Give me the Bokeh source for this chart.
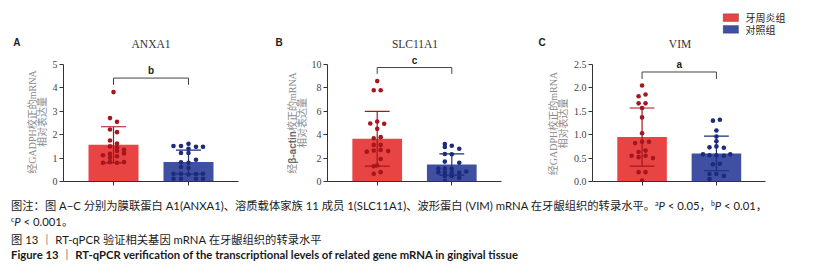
from bokeh.plotting import figure
from bokeh.layouts import row, column
from bokeh.models import (Range1d, FixedTicker, Label, Div, BoxAnnotation,
                          ColumnDataSource, PrintfTickFormatter)
from bokeh.embed import file_html
from bokeh.resources import INLINE

# ---------------- data ----------------
groups = ["牙周炎组", "对照组"]
genes = ["ANXA1", "SLC11A1", "VIM"]
panel_letters = ["A", "B", "C"]
sig_letters = ["b", "c", "a"]
# first line of each y-axis title, split in (text, bold) pieces
ylabel_line1 = [
    [("经GADPH校正的mRNA", False)],
    [("经", False), ("β-actin", True), ("校正的mRNA", False)],
    [("经GADPH校正的mRNA", False)],
]
ylabel_line2 = "相对表达量"
y_max = [5, 10, 2.5]
y_ticks = [[0, 1, 2, 3, 4, 5], [0, 2, 4, 6, 8, 10], [0, 0.5, 1.0, 1.5, 2.0, 2.5]]
y_tick_format = ["%d", "%d", "%.1f"]

# bar means and SD (periodontitis, control)
means = [[1.57, 0.83], [3.65, 1.45], [0.95, 0.60]]
sds = [[0.77, 0.51], [2.34, 0.91], [0.62, 0.37]]

# significance brackets: top, drop end, letter height
bracket_top = [4.42, 9.74, 2.34]
bracket_drop = [4.13, 9.20, 2.19]
letter_y = [4.74, 10.34, 2.49]

# individual samples (value, horizontal jitter in bar widths)
anxa1_pd_vals = [3.82, 2.71, 2.55, 2.22, 2.11, 1.75, 1.62, 1.50, 1.45, 1.12, 1.18, 1.30, 1.36,
                 1.02, 1.08, 1.20, 0.80, 0.83, 0.80, 0.83]
anxa1_pd_jit = [0, -0.07, 0.07, -0.07, 0.07, -0.07, 0.07, -0.07, 0.07, -0.21, -0.07, 0.07, 0.21,
                -0.07, 0.07, 0.21, -0.21, -0.07, 0.07, 0.21]
anxa1_ct_vals = [1.61, 1.52, 1.52, 1.48, 1.48, 1.40, 1.22, 1.22, 0.93, 0.82, 0.80, 0.62, 0.58,
                 0.33, 0.33, 0.30, 0.32, 0.33, 0.12, 0.12, 0.12, 0.12]
anxa1_ct_jit = [0, -0.30, -0.15, 0.15, 0.29, 0, -0.15, 0, 0.15, -0.15, 0, -0.15, 0,
                -0.30, -0.15, 0, 0.15, 0.29, -0.30, -0.15, 0.15, 0.29]

slc_pd_vals = [8.58, 7.80, 7.80, 5.13, 4.96, 4.93, 4.50, 3.70, 3.79, 3.13, 3.13, 2.65, 2.70,
               2.55, 2.60, 1.92, 1.37, 1.30, 0.66, 0.80]
slc_pd_jit = [0, -0.07, 0.07, 0, -0.14, 0.14, 0, -0.07, 0.07, -0.07, 0.07, -0.07, 0.07,
              -0.21, 0.22, 0.07, 0, -0.07, -0.07, 0.07]
slc_ct_vals = [3.20, 3.05, 2.95, 2.80, 2.35, 2.33, 1.70, 1.60, 1.10, 1.10, 1.08, 0.85, 0.78,
               0.76, 0.75, 0.75, 0.48, 0.45, 0.30, 0.05]
slc_ct_jit = [-0.14, 0.0, -0.14, 0.15, -0.14, 0.0, -0.14, 0.15, -0.27, -0.14, 0.0, 0.29, -0.27,
              -0.14, 0.0, 0.15, -0.14, 0.0, 0.15, -0.14]

vim_pd_vals = [2.05, 1.82, 1.86, 1.67, 1.67, 1.57, 1.37, 1.03, 0.82, 0.85, 0.85, 0.63, 0.66,
               0.55, 0.52, 0.55, 0.50, 0.20, 0.20, 0.02]
vim_pd_jit = [0, -0.07, 0.07, -0.07, 0.07, 0, 0, 0, -0.14, 0, 0.14, -0.07, 0.07,
              -0.21, -0.07, 0.07, 0.22, -0.07, 0.07, 0]
vim_ct_vals = [1.30, 1.32, 1.09, 0.96, 0.86, 0.73, 0.75, 0.72, 0.58, 0.56, 0.56, 0.55, 0.58,
               0.37, 0.38, 0.16, 0.16, 0.12, 0.05]
vim_ct_jit = [-0.07, 0.07, 0, 0, 0, -0.14, 0, 0.15, -0.27, -0.14, 0, 0.15, 0.28,
              -0.07, 0.07, -0.14, 0, 0.15, -0.14]

samples = [
    [(anxa1_pd_vals, anxa1_pd_jit), (anxa1_ct_vals, anxa1_ct_jit)],
    [(slc_pd_vals, slc_pd_jit), (slc_ct_vals, slc_ct_jit)],
    [(vim_pd_vals, vim_pd_jit), (vim_ct_vals, vim_ct_jit)],
]

caption_line1 = ("图注：图 A−C 分别为膜联蛋白 A1(ANXA1)、溶质载体家族 11 成员 1(SLC11A1)、"
                 "波形蛋白 (VIM) mRNA 在牙龈组织的转录水平。")
caption_p = [("a", "0.05，"), ("b", "0.01，"), ("c", "0.001。")]
caption_line3 = "图 13 ｜ RT-qPCR 验证相关基因 mRNA 在牙龈组织的转录水平"
caption_line4 = "Figure 13 ｜ RT-qPCR verification of the transcriptional levels of related gene mRNA in gingival tissue"

# ---------------- styling / layout ----------------
bar_colors = ["#E84444", "#3F50A3"]
dot_colors = ["#A5161E", "#1D2B7B"]
centers = [1.0, 2.5]
x_max = 3.5
bar_width = 1.0
cap_half = 0.25
axis_color = "#333333"
serif = "Liberation Serif, Noto Sans CJK SC"

fig_h = 191
bottom_border = 10
frame_h = fig_h - bottom_border          # frame spans the top of the canvas (row aligns borders)
axis_px = 117                            # pixel length of the 0..max axis
axis_w_px = 175                          # pixel length of the x axis

strip_w = [48, 40, 42]                   # left strips holding letter + y-axis title
plot_w = [220, 220, 250]
plot_lb = [15, 18, 20]
plot_rb = [30, 27, 0]
letter_x = [12.7, 7, 10]
ylab_x = [31.7, 23.7, 25.3]
ylab_center = [121.5, 122.5, 123.0]      # page y of the title's middle
piece_len = {"经": 10.0, "β-actin": 32.8, "校正的mRNA": 58.9}


def make_strip(i):
    s = figure(width=strip_w[i], height=fig_h, x_range=Range1d(0, 1), y_range=Range1d(0, 1),
               output_backend="svg", toolbar_location=None, title=None,
               x_axis_location=None, y_axis_location=None, min_border=0,
               min_border_bottom=bottom_border)
    s.outline_line_color = None
    s.grid.visible = False
    s.add_layout(Label(x=letter_x[i], y=frame_h - 41.7, x_units="screen", y_units="screen",
                       text=panel_letters[i], text_align="left", text_baseline="middle",
                       text_font="Liberation Sans", text_font_style="bold",
                       text_font_size="10px", text_color="#222222"))
    pieces = ylabel_line1[i]
    if len(pieces) == 1:
        s.add_layout(Label(x=ylab_x[i], y=frame_h - ylab_center[i], x_units="screen",
                           y_units="screen", text=pieces[0][0], angle=90, angle_units="deg",
                           text_align="center", text_baseline="middle", text_font=serif,
                           text_font_size="10px", text_color="#8a8a8a"))
    else:
        total = sum(piece_len[t] for t, _ in pieces)
        start = frame_h - ylab_center[i] - total / 2     # bottom end, frame coords
        for t, bold in pieces:
            s.add_layout(Label(x=ylab_x[i], y=start, x_units="screen", y_units="screen",
                               text=t, angle=90, angle_units="deg", text_align="left",
                               text_baseline="middle",
                               text_font="Liberation Sans" if bold else serif,
                               text_font_style="bold" if bold else "normal",
                               text_font_size="10px",
                               text_color="#6a6a6a" if bold else "#8a8a8a"))
            start += piece_len[t]
    s.add_layout(Label(x=ylab_x[i] + 10, y=frame_h - ylab_center[i], x_units="screen",
                       y_units="screen", text=ylabel_line2, angle=90, angle_units="deg",
                       text_align="center", text_baseline="middle", text_font=serif,
                       text_font_size="10px", text_color="#8a8a8a"))
    return s


def make_panel(i):
    w = plot_w[i]
    lb = plot_lb[i]
    rb = plot_rb[i]
    fw = w - lb - rb
    y_top = y_max[i] * frame_h / axis_px
    x_top = x_max * fw / axis_w_px
    p = figure(width=w, height=fig_h, x_range=Range1d(0, x_top), y_range=Range1d(0, y_top),
               output_backend="svg", toolbar_location=None, title=None,
               min_border_left=lb, min_border_right=rb, min_border_top=0,
               min_border_bottom=bottom_border)
    p.outline_line_color = None
    p.grid.visible = False
    p.background_fill_color = "white"
    p.border_fill_color = "white"

    # axes
    p.yaxis.bounds = (0, y_max[i])
    p.yaxis.ticker = FixedTicker(ticks=y_ticks[i])
    p.yaxis.formatter = PrintfTickFormatter(format=y_tick_format[i])
    p.yaxis.major_label_text_font = serif
    p.yaxis.major_label_text_font_size = "10px"
    p.yaxis.major_label_text_color = "#444444"
    p.yaxis.major_label_standoff = 2
    p.xaxis.bounds = (0, x_max)
    p.xaxis.ticker = FixedTicker(ticks=centers)
    p.xaxis.major_label_overrides = {1: "", 2.5: ""}
    p.xaxis.major_label_text_font_size = "1px"
    p.xaxis.major_label_standoff = 0
    for ax in (p.xaxis, p.yaxis):
        ax.axis_line_color = axis_color
        ax.major_tick_line_color = axis_color
        ax.major_tick_in = 0
        ax.major_tick_out = 4
        ax.minor_tick_line_color = None

    m = means[i]
    s = sds[i]
    src = ColumnDataSource(data=dict(x=centers, top=m, color=bar_colors,
                                     lo=[a - b for a, b in zip(m, s)],
                                     hi=[a + b for a, b in zip(m, s)],
                                     cl=[c - cap_half for c in centers],
                                     cr=[c + cap_half for c in centers],
                                     dcol=dot_colors))
    p.vbar(x="x", top="top", width=bar_width, bottom=0, fill_color="color", line_color=None, source=src)
    p.segment(x0="x", y0="lo", x1="x", y1="hi", line_color="dcol", line_width=1.2, source=src)
    p.segment(x0="cl", y0="hi", x1="cr", y1="hi", line_color="dcol", line_width=1.2, source=src)
    p.segment(x0="cl", y0="lo", x1="cr", y1="lo", line_color="dcol", line_width=1.2, source=src)

    for g in range(2):
        vals, jit = samples[i][g]
        p.scatter(x=[centers[g] + j for j in jit], y=vals, size=4.6,
                  fill_color=dot_colors[g], line_color=None)

    # significance bracket
    p.line(x=[centers[0], centers[0], centers[1], centers[1]],
           y=[bracket_drop[i], bracket_top[i], bracket_top[i], bracket_drop[i]],
           line_color="#444444", line_width=1)
    p.add_layout(Label(x=sum(centers) / 2, y=letter_y[i], text=sig_letters[i],
                       text_align="center", text_baseline="middle",
                       text_font="Liberation Sans", text_font_style="bold",
                       text_font_size="10px", text_color="#222222"))

    # gene title
    p.add_layout(Label(x=axis_w_px / 2, y=frame_h - 43, x_units="screen", y_units="screen",
                       text=genes[i], text_align="center", text_baseline="middle",
                       text_font=serif, text_font_size="11.5px", text_color="#333333"))
    return p


strips = [make_strip(i) for i in range(3)]
panels = [make_panel(i) for i in range(3)]

# group legend on panel C (swatches + labels, frame-relative pixels)
pc = panels[2]
swatch_left, swatch_w, swatch_h = 130.7, 15.3, 7.7
swatch_centers = [frame_h - 17.2, frame_h - 28.9]
for g in range(2):
    yc = swatch_centers[g]
    pc.add_layout(BoxAnnotation(left=swatch_left, right=swatch_left + swatch_w,
                                bottom=yc - swatch_h / 2, top=yc + swatch_h / 2,
                                left_units="screen", right_units="screen",
                                bottom_units="screen", top_units="screen",
                                fill_color=bar_colors[g], fill_alpha=1,
                                line_color="#222222", line_width=1))
    pc.add_layout(Label(x=swatch_left + 22.3, y=yc, x_units="screen", y_units="screen",
                        text=groups[g], text_align="left", text_baseline="middle",
                        text_font="Noto Sans CJK SC", text_font_size="10px",
                        text_color="#222222"))

# caption
def p_html(sup, rest):
    return (f'<sup style="font-size:7px; line-height:0; vertical-align:4px;">{sup}</sup>'
            f'<i>P</i> &lt; {rest}')

line_style = "height:15.5px; line-height:15.5px; margin:0; white-space:nowrap;"
caption_html = (
    '<div style="font-family: Lato, \'Noto Sans CJK SC\', sans-serif; font-size:11.3px; '
    'color:#1a1a1a; padding-left:6px;">'
    f'<div style="{line_style} margin-top:2px;">{caption_line1}{p_html(*caption_p[0])}{p_html(*caption_p[1])}</div>'
    f'<div style="{line_style}">{p_html(*caption_p[2])}</div>'
    f'<div style="{line_style} margin-top:2.5px;">{caption_line3}</div>'
    f'<div style="{line_style} font-weight:bold;">{caption_line4}</div>'
    '</div>'
)
caption = Div(text=caption_html, width=820, height=80)

top_row = row(strips[0], panels[0], strips[1], panels[1], strips[2], panels[2])
layout = column(top_row, caption)
open("out.html", "w").write(file_html(layout, INLINE))
